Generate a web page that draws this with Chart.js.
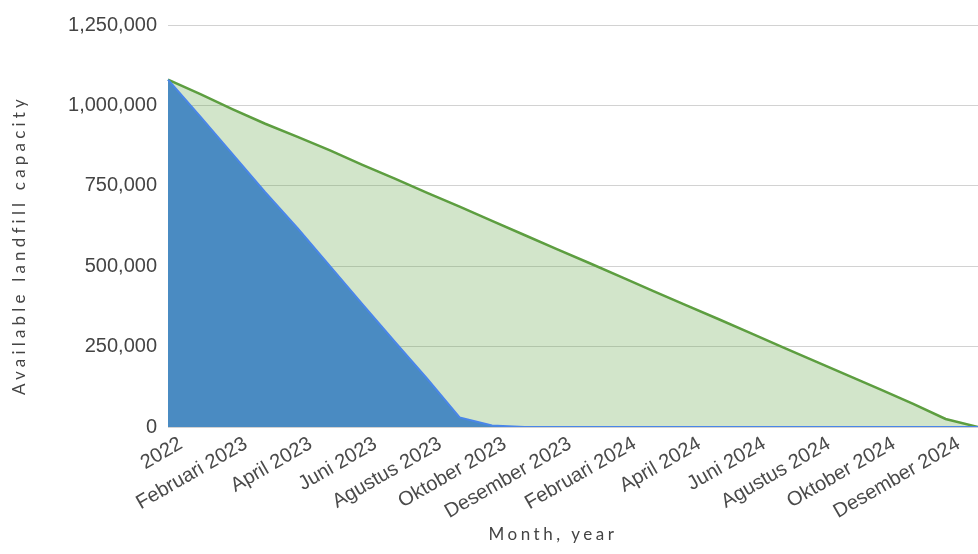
<!DOCTYPE html>
<html>
<head>
<meta charset="utf-8">
<script src="https://cdn.jsdelivr.net/npm/chart.js@4"></script>
<style>
  html, body { margin: 0; padding: 0; background: #ffffff; }
  #wrap { width: 978px; height: 554px; position: relative; }
</style>
</head>
<body>
<div id="wrap"><canvas id="chart" width="978" height="554"></canvas></div>
<script>
// Monthly timeline, December 2022 through January 2025
const months = [
  '2022', 'Januari 2023', 'Februari 2023', 'Maret 2023', 'April 2023', 'Mei 2023',
  'Juni 2023', 'Juli 2023', 'Agustus 2023', 'September 2023', 'Oktober 2023',
  'November 2023', 'Desember 2023', 'Januari 2024', 'Februari 2024', 'Maret 2024',
  'April 2024', 'Mei 2024', 'Juni 2024', 'Juli 2024', 'Agustus 2024',
  'September 2024', 'Oktober 2024', 'November 2024', 'Desember 2024', 'Januari 2025'
];

// Remaining capacity without waste reduction (fast depletion)
const capacityBaseline = [
  1080000, 965000, 848000, 730000, 618000, 500000, 382000, 265000, 150000, 30000,
  5000, 0, 0, 0, 0, 0, 0, 0, 0, 0, 0, 0, 0, 0, 0, 0
];

// Remaining capacity with waste reduction (slower depletion)
const capacityReduced = [
  1080000, 1035000, 988000, 943000, 902000, 860000, 815000, 772000, 728000, 685000,
  641000, 597000, 553000, 510000, 466000, 422000, 378000, 335000, 291000, 247000,
  203000, 160000, 116000, 72000, 25000, 0
];

const yTicks = [0, 250000, 500000, 750000, 1000000, 1250000];

const xTitle = 'Month, year';
const yTitle = 'Available landfill capacity';

// Draws the spaced-out axis titles
const axisTitles = {
  id: 'axisTitles',
  afterDraw(chart, args, opts) {
    const { ctx, chartArea } = chart;
    ctx.save();
    ctx.fillStyle = opts.color;
    ctx.font = opts.font;
    ctx.textAlign = 'center';
    ctx.textBaseline = 'middle';
    ctx.letterSpacing = opts.xSpacing + 'px';
    ctx.fillText(opts.xText, (chartArea.left + chartArea.right) / 2 - 20, chart.height - 19);
    ctx.letterSpacing = opts.ySpacing + 'px';
    ctx.translate(20, (chartArea.top + chartArea.bottom) / 2 + 19);
    ctx.rotate(-Math.PI / 2);
    ctx.fillText(opts.yText, 0, 0);
    ctx.restore();
  }
};

const tickFont = { family: "'Liberation Sans', Arial, sans-serif", size: 20 };

new Chart(document.getElementById('chart'), {
  type: 'line',
  data: {
    labels: months,
    datasets: [
      {
        label: 'Tanpa pengurangan',
        data: capacityBaseline,
        borderColor: '#4a86e8',
        backgroundColor: '#4a8bc2',
        borderWidth: 2,
        fill: 'origin',
        pointRadius: 0,
        tension: 0
      },
      {
        label: 'Dengan pengurangan',
        data: capacityReduced,
        borderColor: '#5d9e40',
        backgroundColor: 'rgba(106,168,79,0.3)',
        borderWidth: 2.5,
        fill: 'origin',
        pointRadius: 0,
        tension: 0
      }
    ]
  },
  options: {
    responsive: false,
    animation: false,
    devicePixelRatio: 1,
    layout: { padding: { top: 25, right: 0, bottom: 0, left: 0 } },
    plugins: {
      legend: { display: false },
      tooltip: { enabled: false },
      axisTitles: {
        xText: xTitle,
        yText: yTitle,
        color: '#444444',
        font: "17px Lato, 'Noto Sans', sans-serif",
        xSpacing: 3.5,
        ySpacing: 4.2
      }
    },
    scales: {
      x: {
        offset: false,
        grid: { display: false, drawTicks: false },
        border: { display: false },
        ticks: {
          autoSkip: false,
          minRotation: 30,
          maxRotation: 30,
          labelOffset: 13,
          padding: 5,
          color: '#4a4a4a',
          font: tickFont,
          callback: (value, index) => (index % 2 === 0 ? months[index] : '')
        },
        afterFit: (scale) => {
          scale.height = 127;
          scale.paddingRight = 0;
          scale.paddingLeft = 0;
        }
      },
      y: {
        min: 0,
        max: 1250000,
        afterBuildTicks: (scale) => { scale.ticks = yTicks.map(v => ({ value: v })); },
        grid: { color: '#d2d2d2', lineWidth: 1, drawTicks: false },
        border: { display: false },
        ticks: {
          padding: 11,
          color: '#444444',
          font: { family: "'Liberation Sans', Arial, sans-serif", size: 20 },
          callback: (value) => value.toLocaleString('en-US')
        },
        afterFit: (scale) => { scale.width = 168; }
      }
    }
  },
  plugins: [axisTitles]
});
</script>
</body>
</html>
